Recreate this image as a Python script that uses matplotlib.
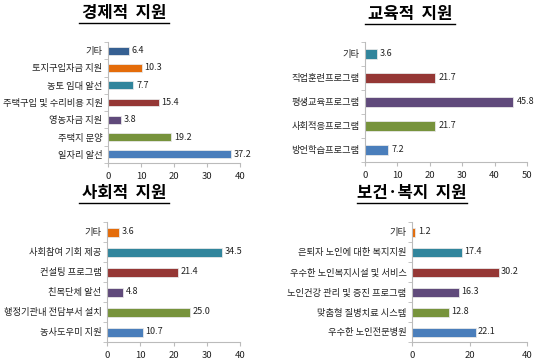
import matplotlib

matplotlib.use("Agg")
import matplotlib.pyplot as plt
from matplotlib.lines import Line2D

plt.rcParams["font.family"] = ["Noto Sans CJK KR", "DejaVu Sans"]

BLUE, RED, GREEN = "#4A7EBB", "#953735", "#77933C"
PURPLE, AQUA, ORANGE, NAVY = "#604A7B", "#31859C", "#E46C0A", "#366092"

# each list runs top to bottom as drawn
eco_labels = ["기타", "토지구입자금 지원", "농토 임대 알선", "주택구입 및 수리비용 지원",
              "영농자금 지원", "주택지 분양", "일자리 알선"]
eco_values = [6.4, 10.3, 7.7, 15.4, 3.8, 19.2, 37.2]
eco_colors = [NAVY, ORANGE, AQUA, RED, PURPLE, GREEN, BLUE]

edu_labels = ["기타", "직업훈련프로그램", "평생교육프로그램", "사회적응프로그램", "방언학습프로그램"]
edu_values = [3.6, 21.7, 45.8, 21.7, 7.2]
edu_colors = [AQUA, RED, PURPLE, GREEN, BLUE]

soc_labels = ["기타", "사회참여 기회 제공", "컨설팅 프로그램", "친목단체 알선",
              "행정기관내 전담부서 설치", "농사도우미 지원"]
soc_values = [3.6, 34.5, 21.4, 4.8, 25.0, 10.7]
soc_colors = [ORANGE, AQUA, RED, PURPLE, GREEN, BLUE]

hw_labels = ["기타", "은퇴자 노인에 대한 복지지원", "우수한 노인복지시설 및 서비스",
             "노인건강 관리 및 증진 프로그램", "맞춤형 질병치료 시스템", "우수한 노인전문병원"]
hw_values = [1.2, 17.4, 30.2, 16.3, 12.8, 22.1]
hw_colors = [ORANGE, AQUA, RED, PURPLE, GREEN, BLUE]

W, H = 550, 360
fig = plt.figure(figsize=(W / 100, H / 100), dpi=100)


def px_axes(left, right, top, bottom):
    return fig.add_axes([left / W, 1 - bottom / H, (right - left) / W, (bottom - top) / H])


def panel(ax, labels, values, colors, xmax, xstep, title, tx, ty, tw):
    n = len(labels)
    ypos = list(range(n))[::-1]
    ax.barh(ypos, values, height=0.45, color=colors, edgecolor="#e8e8e8", linewidth=0.6)
    for y, v in zip(ypos, values):
        ax.text(v + xmax * 0.02, y, f"{v:.1f}", va="center", ha="left", fontsize=6.5, color="#222222")
    ax.set_yticks(ypos)
    ax.set_yticklabels(labels, fontsize=6.7, color="#222222")
    ax.set_yticks([i + 0.5 for i in range(-1, n)], minor=True)
    ax.tick_params(axis="y", which="major", length=0, pad=4)
    ax.tick_params(axis="y", which="minor", length=3, color="#bbbbbb")
    ax.set_ylim(-0.5, n - 0.5)
    ax.set_xlim(0, xmax)
    ax.set_xticks(range(0, xmax + 1, xstep))
    ax.tick_params(axis="x", labelsize=6.8, length=3, color="#bbbbbb", labelcolor="#222222")
    for s in ("top", "right"):
        ax.spines[s].set_visible(False)
    for s in ("left", "bottom"):
        ax.spines[s].set_color("#bbbbbb")
        ax.spines[s].set_linewidth(0.8)
    fig.text(tx / W, 1 - ty / H, title, ha="center", va="center", fontsize=12, fontweight="bold")
    uy = 1 - (ty + 10) / H
    fig.add_artist(Line2D([(tx - tw / 2) / W, (tx + tw / 2) / W], [uy, uy],
                          transform=fig.transFigure, color="black", lw=1.0))


panel(px_axes(108, 240, 42, 163), eco_labels, eco_values, eco_colors, 40, 10,
      "경제적  지원", 124, 13, 90)
panel(px_axes(365, 527, 42, 162), edu_labels, edu_values, edu_colors, 50, 10,
      "교육적  지원", 410, 14, 90)
panel(px_axes(107, 240, 222, 342), soc_labels, soc_values, soc_colors, 40, 10,
      "사회적  지원", 124, 193, 90)
panel(px_axes(412, 527, 222, 342), hw_labels, hw_values, hw_colors, 40, 20,
      "보건·복지  지원", 412, 193, 110)

fig.savefig("out.png", dpi=100)
